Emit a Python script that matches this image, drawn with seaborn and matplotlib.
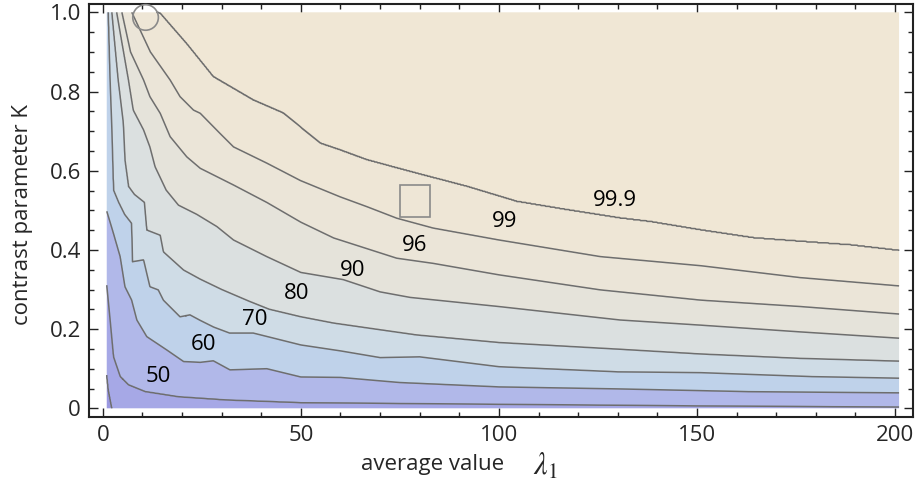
import numpy as np
import matplotlib
matplotlib.use("Agg")
import matplotlib.pyplot as plt
import seaborn as sns
from matplotlib.patches import Ellipse, Rectangle

# ---------------- data ----------------
levels = [40, 50, 60, 70, 80, 90, 96, 99, 99.9]

lam40 = [1.0, 1.4, 2.3, 3.0, 201]
k40 = [0.084, 0.046, 0.0, -0.02, -0.02]

lam50 = [1.0, 1.85, 2.7, 4.4, 6.5, 10.7, 19.1, 30.9, 50, 100, 150, 201]
k50 = [0.311, 0.223, 0.13, 0.08, 0.059, 0.042, 0.029, 0.021, 0.014, 0.010, 0.006, 0.003]

lam60 = [1.0, 2.7, 4.4, 5.6, 7.3, 8.6, 11.1, 16.2, 20.4, 24.6, 27.9, 32.1, 41.4,
         50, 60, 75, 100, 130, 163, 201]
k60 = [0.497, 0.442, 0.383, 0.307, 0.273, 0.223, 0.181, 0.147, 0.118, 0.116, 0.12,
       0.097, 0.1, 0.079, 0.078, 0.065, 0.054, 0.049, 0.042, 0.039]

lam70 = [1.0, 1.4, 1.85, 2.3, 2.7, 4.0, 5.5, 7.3, 7.5, 10.3, 11.9, 14.0, 15.3, 17.8,
         19.5, 22, 24.6, 28, 32, 38, 50, 60, 70, 80, 100, 130, 151, 179, 201]
k70 = [1.1, 1.0, 0.829, 0.703, 0.551, 0.52, 0.49, 0.467, 0.37, 0.375, 0.307, 0.299,
       0.273, 0.248, 0.231, 0.236, 0.222, 0.205, 0.19, 0.19, 0.16, 0.145, 0.128,
       0.13, 0.105, 0.092, 0.09, 0.08, 0.076]

lam80 = [1.0, 2.3, 3.9, 5.2, 5.6, 6.5, 8.0, 10.5, 11.1, 14.5, 15.3, 20.4, 24.6, 30,
         37, 42, 50, 58.3, 79.3, 100, 130.6, 151, 176, 201]
k80 = [1.2, 1.0, 0.829, 0.72, 0.627, 0.56, 0.54, 0.52, 0.45, 0.437, 0.395, 0.349,
       0.326, 0.30, 0.27, 0.25, 0.231, 0.215, 0.185, 0.166, 0.149, 0.137, 0.126, 0.119]

lam90 = [1.0, 3.5, 6.5, 7.7, 10.3, 11.9, 13.2, 16.0, 19.1, 23.7, 28.8, 33, 41.4, 50,
         60.7, 70, 77.6, 100, 130.6, 151, 176, 201]
k90 = [1.3, 1.0, 0.829, 0.753, 0.703, 0.66, 0.61, 0.551, 0.513, 0.49, 0.459, 0.425,
       0.383, 0.343, 0.325, 0.294, 0.28, 0.257, 0.223, 0.21, 0.193, 0.177]

lam96 = [1.0, 4.8, 7.0, 10.3, 11.9, 14.5, 17, 21.2, 24.6, 33, 41.4, 50, 58.3, 74.2,
         83.4, 100, 125.6, 151, 176, 201]
k96 = [1.4, 1.0, 0.9, 0.829, 0.787, 0.745, 0.686, 0.635, 0.606, 0.564, 0.52, 0.47,
       0.43, 0.379, 0.366, 0.337, 0.299, 0.273, 0.257, 0.238]

lam99 = [1.0, 7.3, 12, 17, 19.5, 22.9, 24.6, 29.6, 33, 41.4, 49.9, 59.9, 66.7, 74.2,
         83.4, 100, 125.6, 151, 176, 201]
k99 = [1.5, 1.0, 0.9, 0.829, 0.787, 0.753, 0.745, 0.694, 0.66, 0.619, 0.575, 0.534,
       0.509, 0.48, 0.455, 0.425, 0.383, 0.36, 0.33, 0.309]

lam999 = [1.0, 13.5, 14.5, 21.2, 27.9, 38, 45.6, 54.9, 59.9, 66.7, 79.3, 91.9, 104.5,
          117.2, 130.6, 138.2, 150.9, 164.3, 176.3, 188.9, 201]
k999 = [1.6, 1.0, 0.997, 0.92, 0.837, 0.778, 0.745, 0.669, 0.652, 0.627, 0.593, 0.56,
        0.522, 0.501, 0.48, 0.471, 0.45, 0.43, 0.421, 0.412, 0.398]

label_text = ["50", "60", "70", "80", "90", "96", "99", "99.9"]
label_lam = [14.1, 25.4, 38.3, 48.9, 63.0, 78.7, 101.5, 129.2]
label_k = [0.080, 0.162, 0.2255, 0.290, 0.347, 0.411, 0.471, 0.524]

xticks = [0, 50, 100, 150, 200]
yticks = [0, 0.2, 0.4, 0.6, 0.8, 1.0]
ytick_labels = ["0", "0.2", "0.4", "0.6", "0.8", "1.0"]

circle_center = (10.8, 0.987)
square_corner = (74.9, 0.484)
square_size = (7.8, 0.08)

# ---------------- build the gridded field from the traced contours ----------------
curves = [(lam40, k40), (lam50, k50), (lam60, k60), (lam70, k70), (lam80, k80),
          (lam90, k90), (lam96, k96), (lam99, k99), (lam999, k999)]
lam_grid = np.linspace(min(c[0][0] for c in curves), max(c[0][-1] for c in curves), 1601)
k_grid = np.linspace(0, 1, 501)
Z = np.empty((len(k_grid), len(lam_grid)))
idx = np.arange(-1, len(curves) + 1)
for j, lam in enumerate(lam_grid):
    ks = [np.interp(lam, lx, ky) for lx, ky in curves]
    Z[:, j] = np.interp(k_grid, [-1.0] + ks + [5.0], idx)

band_colors = ["#9a98e0", "#a6a8e6", "#b1b8e9", "#bfd2ea", "#cfdce6",
               "#dbe0e0", "#e5e3da", "#ebe5d8", "#eee6d6", "#f0e7d5"]

# ---------------- plot ----------------
sns.set_theme(style="ticks")
plt.rcParams["font.family"] = ["Open Sans", "DejaVu Sans"]
plt.rcParams["mathtext.fontset"] = "stix"

fig = plt.figure(figsize=(9.17, 4.86), dpi=100)
ax = fig.add_axes([0.0974, 0.1426, 0.8986, 0.8492])

ax.contourf(lam_grid, k_grid, Z, levels=np.arange(-1, len(curves) + 1),
            colors=band_colors, antialiased=True)
ax.contour(lam_grid, k_grid, Z, levels=np.arange(0, len(curves)),
           colors="#6e6e6e", linewidths=1.1)

for t, lx, ky in zip(label_text, label_lam, label_k):
    ax.text(lx, ky, t, ha="center", va="center", fontsize=16, color="black")

ax.add_patch(Ellipse(circle_center, 6.46, 0.0646, fill=False, edgecolor="#8a8a8a",
                     linewidth=1.2, clip_on=False, zorder=5))
ax.add_patch(Rectangle(square_corner, square_size[0], square_size[1], fill=False,
                       edgecolor="#8a8a8a", linewidth=1.2, zorder=5))

ax.set_xlim(-3.4, 204.6)
ax.set_ylim(-0.0212, 1.021)
ax.set_xticks(xticks)
ax.set_xticklabels([str(v) for v in xticks])
ax.set_yticks(yticks)
ax.set_yticklabels(ytick_labels)
ax.set_xticks(np.arange(0, 201, 10), minor=True)
ax.set_yticks(np.arange(0, 1.001, 0.05), minor=True)
ax.tick_params(which="both", direction="in", top=True, right=True, color="#222222",
               width=1.0)
ax.tick_params(which="major", length=6.5, labelsize=16, pad=6)
ax.tick_params(which="minor", length=3.5)
for s in ax.spines.values():
    s.set_linewidth(1.5)
    s.set_color("#222222")

ax.text(0.416, -0.117, "average value", transform=ax.transAxes, ha="center",
        va="center", fontsize=16)
ax.text(0.553, -0.122, r"$\lambda_1$", transform=ax.transAxes, ha="center",
        va="center", fontsize=22)
ax.text(-0.0805, 0.489, "contrast parameter K", transform=ax.transAxes, ha="center",
        va="center", rotation=90, fontsize=16)

fig.savefig("out.png", dpi=100)
